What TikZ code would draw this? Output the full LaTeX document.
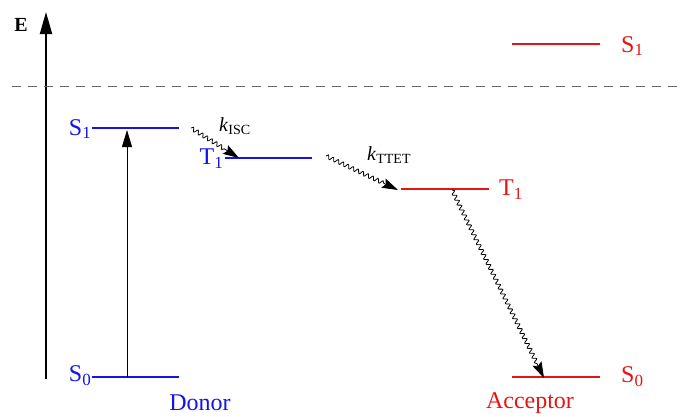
\documentclass[tikz,border=0pt]{standalone}
\usepackage{fontspec}
\setmainfont{Liberation Serif}
\usetikzlibrary{decorations.pathmorphing,arrows.meta}
\definecolor{dblue}{RGB}{20,20,230}
\definecolor{ared}{RGB}{230,20,20}
\newcommand{\sbx}[1]{\raisebox{-0.35ex}{\fontsize{17}{17}\selectfont #1}}
\newcommand{\ksb}[1]{\raisebox{-0.3ex}{\fontsize{14}{14}\selectfont #1}}
\begin{document}
\begin{tikzpicture}[x=1pt,y=-1pt,
  lvl/.style={line width=2pt},
  lab/.style={font=\fontsize{24}{24}\selectfont, inner sep=0pt},
  klab/.style={font=\fontsize{20}{20}\selectfont, inner sep=0pt},
  wave/.style={decorate,decoration={snake,amplitude=2pt,segment length=5.5pt,post length=15pt},
     -{Stealth[length=16pt,width=10pt,inset=2.5pt]}, line width=0.8pt}]
\useasboundingbox (0,0) rectangle (680,416);
% axis
\coordinate (ab) at (46,379);
\coordinate (at) at (46,12);
\draw[line width=2pt,-{Triangle[length=22pt,width=12pt]}] (ab) -- (at);
\node[font=\bfseries\fontsize{20}{20}\selectfont,inner sep=0pt] (E) at (21,25) {E};
% dashed
\coordinate (d1) at (12,86);
\coordinate (d2) at (680,86);
\draw[gray!80!black,line width=1pt,dash pattern=on 9pt off 7pt] (d1) -- (d2);
% donor levels
\coordinate (ds1a) at (92,128); \coordinate (ds1b) at (179,128);
\coordinate (dt1a) at (225,158); \coordinate (dt1b) at (312,158);
\coordinate (ds0a) at (92,377); \coordinate (ds0b) at (179,377);
\draw[lvl,dblue] (ds1a) -- (ds1b);
\draw[lvl,dblue] (dt1a) -- (dt1b);
\draw[lvl,dblue] (ds0a) -- (ds0b);
\node[lab,dblue,anchor=east] (lS1) at (91,129) {S\sbx{1}};
\node[lab,dblue,anchor=east] (lT1) at (223,159) {T\sbx{1}};
\node[lab,dblue,anchor=east] (lS0) at (91,376) {S\sbx{0}};
% acceptor levels
\coordinate (as1a) at (512,44); \coordinate (as1b) at (600,44);
\coordinate (at1a) at (401,189); \coordinate (at1b) at (489,189);
\coordinate (as0a) at (512,377); \coordinate (as0b) at (600,377);
\draw[lvl,ared] (as1a) -- (as1b);
\draw[lvl,ared] (at1a) -- (at1b);
\draw[lvl,ared] (as0a) -- (as0b);
\node[lab,ared,anchor=west] (rS1) at (621,46) {S\sbx{1}};
\node[lab,ared,anchor=west] (rT1) at (499,190) {T\sbx{1}};
\node[lab,ared,anchor=west] (rS0) at (621,377) {S\sbx{0}};
% absorption arrow
\coordinate (abs0) at (127,377);
\coordinate (abs1) at (127,130);
\draw[line width=0.8pt,-{Triangle[length=17pt,width=10pt]}] (abs0) -- (abs1);
% ISC
\coordinate (isc0) at (191,128);
\coordinate (isc1) at (239,158);
\draw[wave] (isc0) -- (isc1);
\node[klab,anchor=west] (kisc) at (219,126) {\textit{k}\ksb{ISC}};
% TTET
\coordinate (tt0) at (326,156);
\coordinate (tt1) at (398,190);
\draw[wave] (tt0) -- (tt1);
\node[klab,anchor=west] (ktt) at (367,155) {\textit{k}\ksb{TTET}};
% phosphorescence
\coordinate (ph0) at (452,190);
\coordinate (ph1) at (544,378);
\draw[wave] (ph0) -- (ph1);
% labels
\node[lab,dblue] (donor) at (200,403) {Donor};
\node[lab,ared] (acc) at (530,403) {Acceptor};
\end{tikzpicture}
\end{document}
